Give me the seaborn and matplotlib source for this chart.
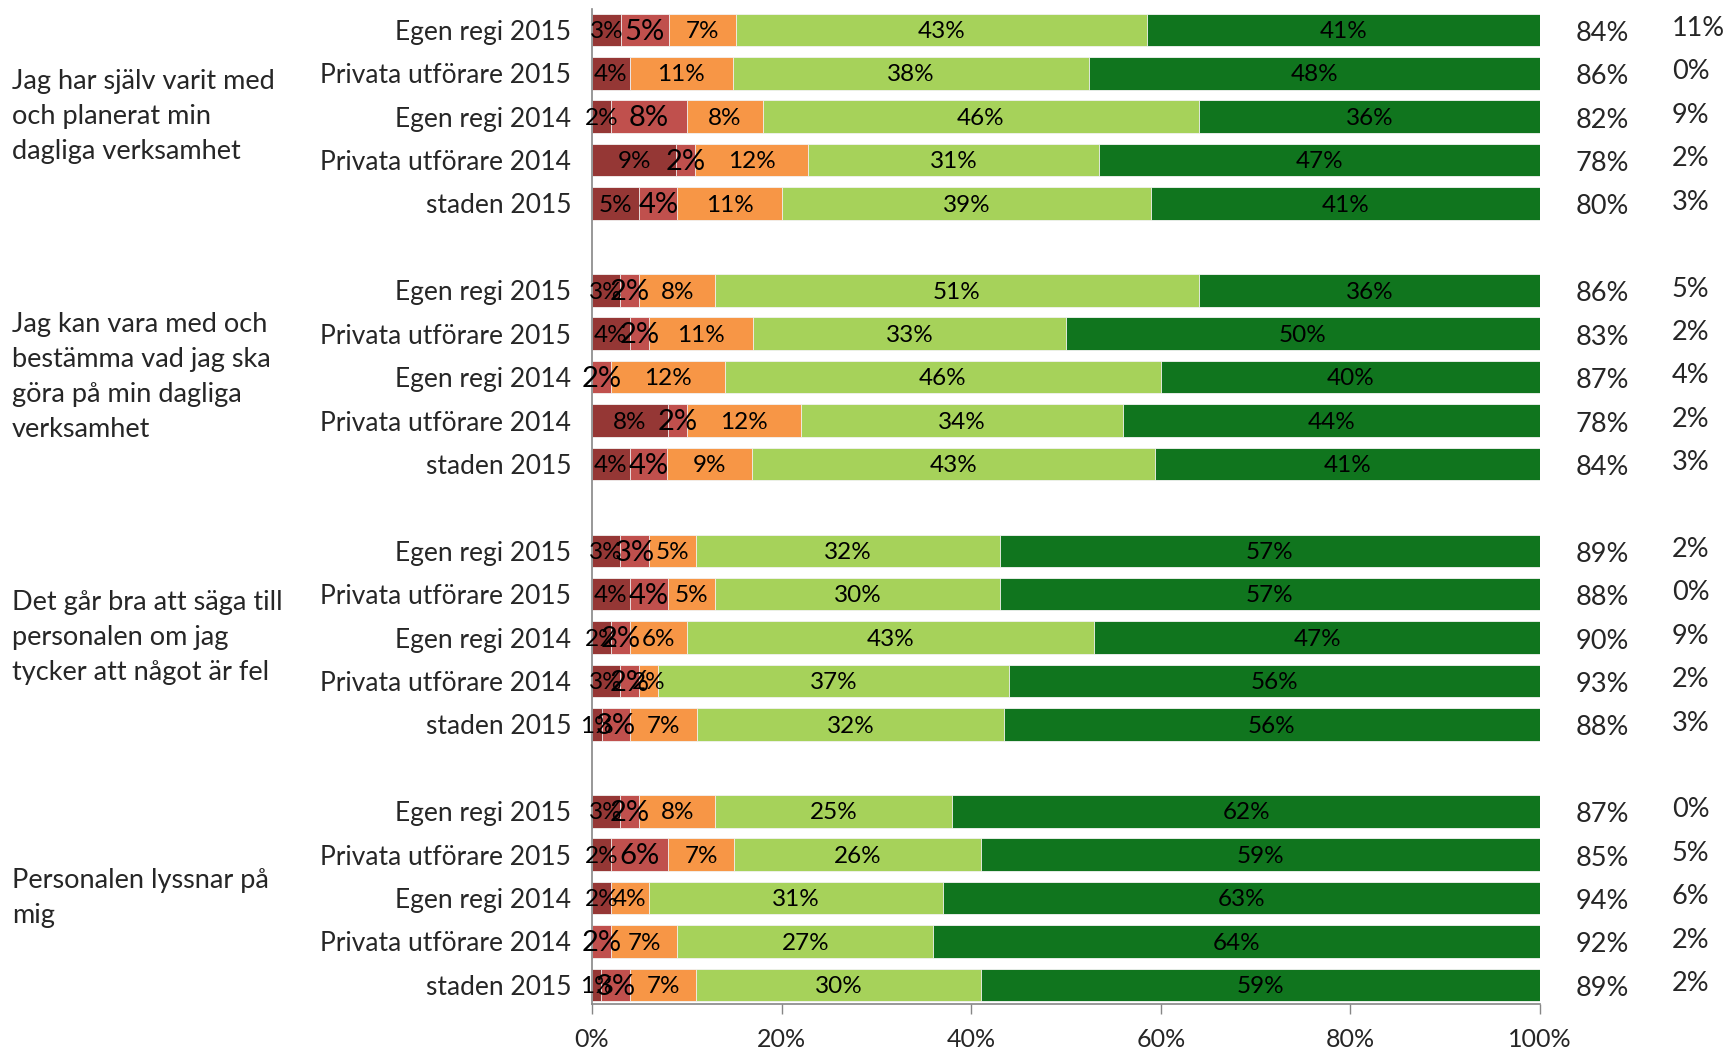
import numpy as np
import pandas as pd
import seaborn as sns
import matplotlib.pyplot as plt
import matplotlib.transforms as mtransforms

# questions (group labels) and the five rows in each group
questions = [
    "Jag har själv varit med\noch planerat min\ndagliga verksamhet",
    "Jag kan vara med och\nbestämma vad jag ska\ngöra på min dagliga\nverksamhet",
    "Det går bra att säga till\npersonalen om jag\ntycker att något är fel",
    "Personalen lyssnar på\nmig",
]
rows = ["Egen regi 2015", "Privata utförare 2015", "Egen regi 2014",
        "Privata utförare 2014", "staden 2015"]

# answer shares per row (4 questions x 5 rows), in %
stammer_inte_alls = [3, 4, 2, 9, 5,  3, 4, 0, 8, 4,  3, 4, 2, 3, 1,  3, 2, 2, 0, 1]
stammer_daligt    = [5, 0, 8, 2, 4,  2, 2, 2, 2, 4,  3, 4, 2, 2, 3,  2, 6, 0, 2, 3]
stammer_delvis    = [7, 11, 8, 12, 11,  8, 11, 12, 12, 9,  5, 5, 6, 2, 7,  8, 7, 4, 7, 7]
stammer_ganska    = [43, 38, 46, 31, 39,  51, 33, 46, 34, 43,  32, 30, 43, 37, 32,  25, 26, 31, 27, 30]
stammer_helt      = [41, 48, 36, 47, 41,  36, 50, 40, 44, 41,  57, 57, 47, 56, 56,  62, 59, 63, 64, 59]

# right hand columns
positiva = [84, 86, 82, 78, 80,  86, 83, 87, 78, 84,  89, 88, 90, 93, 88,  87, 85, 94, 92, 89]
vet_ej   = [11, 0, 9, 2, 3,  5, 2, 4, 2, 3,  2, 0, 9, 2, 3,  0, 5, 6, 2, 2]

colors = ["#953735", "#C0504D", "#F79646", "#A6D25A", "#10751E"]

sns.set_theme(style="white")
plt.rcParams['font.family'] = ['Lato', 'DejaVu Sans']

vals = np.array([stammer_inte_alls, stammer_daligt, stammer_delvis,
                 stammer_ganska, stammer_helt], dtype=float).T
shares = vals / vals.sum(axis=1, keepdims=True) * 100
cum = shares.cumsum(axis=1)

ids = []
ypos = []
order = []
for g in range(len(questions)):
    for r in range(len(rows)):
        ids.append(f"q{g}r{r}")
        ypos.append(6 * g + r)
        order.append(f"q{g}r{r}")
    if g < len(questions) - 1:
        order.append(f"gap{g}")

fig = plt.figure(figsize=(17.25, 10.52), dpi=100)
ax = fig.add_axes([592 / 1725, 1 - 1004 / 1052, 948 / 1725, 995 / 1052])

for k in range(4, -1, -1):
    df = pd.DataFrame({"id": ids, "cum": cum[:, k]})
    sns.barplot(data=df, x="cum", y="id", order=order, color=colors[k],
                saturation=1, width=0.75, errorbar=None, orient="h",
                edgecolor="#f4f4f4", linewidth=0.6, ax=ax)

ax.set_xlim(0, 100)
ax.set_ylim(22.44, -0.48)

# segment labels
for i, y in enumerate(ypos):
    left = 0
    for k in range(5):
        w = shares[i, k]
        if vals[i, k] > 0:
            fs = 21 if k == 1 else 17.5
            ax.text(left + w / 2, y + 0.04, f"{int(vals[i, k])}%", ha="center",
                    va="center", fontsize=fs, color="black")
        left += w
    ax.text(106.6, y + 0.08, f"{positiva[i]}%", ha="center", va="center",
            fontsize=19.5, clip_on=False)
    ax.text(113.9, y - 0.03, f"{vet_ej[i]}%", ha="left", va="center",
            fontsize=19.5, clip_on=False)

# group labels
trans = mtransforms.blended_transform_factory(fig.transFigure, ax.transData)
for g, q in enumerate(questions):
    ax.text(12 / 1725, 6 * g + 2, q, transform=trans, ha="left", va="center",
            fontsize=19.5, linespacing=1.5, clip_on=False)

ax.set_yticks(ypos)
ax.set_yticklabels(rows * len(questions), fontsize=19)
ax.tick_params(axis="y", length=0, pad=15)
ax.set_xticks(range(0, 101, 20))
ax.set_xticklabels([f"{v}%" for v in range(0, 101, 20)], fontsize=18)
ax.tick_params(axis="x", length=7, width=1, color="#868686", direction="out",
               bottom=True, pad=10)
ax.set_xlabel("")
ax.set_ylabel("")

sns.despine(ax=ax, top=True, right=True)
for s in ["left", "bottom"]:
    ax.spines[s].set_color("#868686")
    ax.spines[s].set_linewidth(1.2)

fig.savefig("out.png", dpi=100)
